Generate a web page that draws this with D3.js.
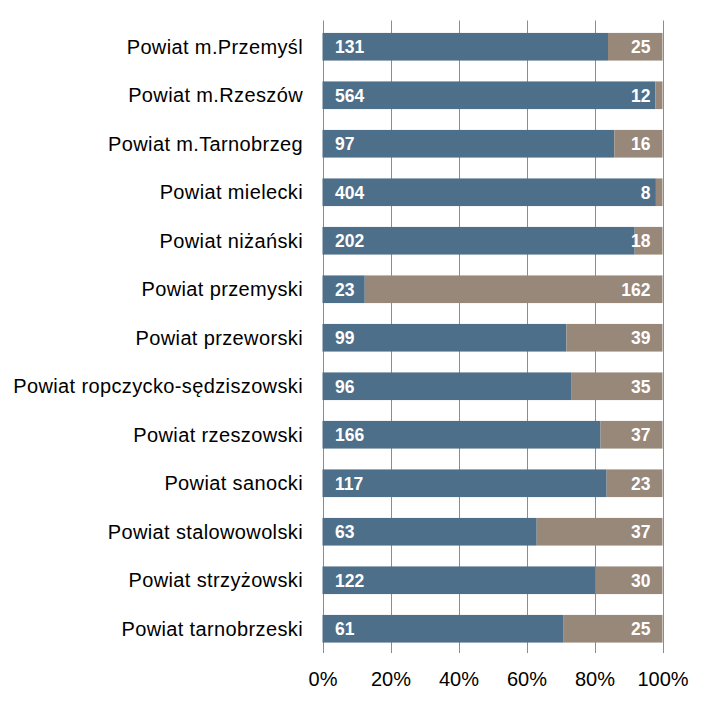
<!DOCTYPE html>
<html><head><meta charset="utf-8">
<script src="https://cdn.jsdelivr.net/npm/d3@7"></script>
<style>body{margin:0;background:#fff}svg{display:block}</style>
</head><body>
<script>
const categories = ["Powiat m.Przemyśl","Powiat m.Rzeszów","Powiat m.Tarnobrzeg","Powiat mielecki","Powiat niżański","Powiat przemyski","Powiat przeworski","Powiat ropczycko-sędziszowski","Powiat rzeszowski","Powiat sanocki","Powiat stalowowolski","Powiat strzyżowski","Powiat tarnobrzeski"];
const seriesA = [131,564,97,404,202,23,99,96,166,117,63,122,61];
const seriesB = [25,12,16,8,18,162,39,35,37,23,37,30,25];
const tickValues = [0,0.2,0.4,0.6,0.8,1];

const W=712,H=702;
const m={left:322.5,right:50,top:22.5,bottom:49};
const svg=d3.select("body").append("svg").attr("width",W).attr("height",H);
const x=d3.scaleLinear().domain([0,1]).range([m.left,662.5]);
const y=d3.scaleBand().domain(categories).range([m.top,H-m.bottom]).paddingInner(0.43).paddingOuter(0.215);
const colA="#4e6f89", colB="#978879";

// gridlines
svg.append("g").selectAll("line").data(tickValues).join("line")
  .attr("x1",d=>Math.round(x(d))+0.5).attr("x2",d=>Math.round(x(d))+0.5)
  .attr("y1",m.top-2).attr("y2",H-m.bottom)
  .attr("stroke","#8c8c8c").attr("stroke-width",1);

const data=categories.map((c,i)=>({c,a:seriesA[i],b:seriesB[i],t:seriesA[i]+seriesB[i]}));
const g=svg.append("g");
g.selectAll("rect.a").data(data).join("rect").attr("class","a")
  .attr("x",x(0)).attr("y",d=>y(d.c)).attr("height",y.bandwidth())
  .attr("width",d=>x(d.a/d.t)-x(0)).attr("fill",colA);
g.selectAll("rect.b").data(data).join("rect").attr("class","b")
  .attr("x",d=>x(d.a/d.t)).attr("y",d=>y(d.c)).attr("height",y.bandwidth())
  .attr("width",d=>x(1)-x(d.a/d.t)).attr("fill",colB);

const lf="Liberation Sans, Arial, sans-serif";
g.selectAll("text.la").data(data).join("text").attr("class","la")
  .attr("x",x(0)+12.5).attr("y",d=>y(d.c)+y.bandwidth()/2).attr("dy","0.36em")
  .attr("fill","#fff").attr("font-family",lf).attr("font-weight","bold").attr("font-size",17.5)
  .text(d=>d.a);
g.selectAll("text.lb").data(data).join("text").attr("class","lb")
  .attr("x",x(1)-12).attr("y",d=>y(d.c)+y.bandwidth()/2).attr("dy","0.36em")
  .attr("text-anchor","end")
  .attr("fill","#fff").attr("font-family",lf).attr("font-weight","bold").attr("font-size",17.5)
  .text(d=>d.b);

// category axis labels
svg.append("g").selectAll("text").data(categories).join("text")
  .attr("x",303).attr("y",d=>y(d)+y.bandwidth()/2).attr("dy","0.36em")
  .attr("text-anchor","end").attr("font-family",lf).attr("font-size",20)
  .attr("letter-spacing","0.37px").attr("fill","#000")
  .text(d=>d);

// x tick labels
const xAxis=d3.axisBottom(x).tickValues(tickValues).tickFormat(d3.format(".0%")).tickSize(0).tickPadding(0);
const ax=svg.append("g").attr("transform",`translate(0,${H-m.bottom})`).call(xAxis);
ax.select(".domain").remove();
ax.selectAll("text").attr("font-family",lf).attr("font-size",20).attr("fill","#000").attr("dy",null).attr("y",33);
</script>
</body></html>
